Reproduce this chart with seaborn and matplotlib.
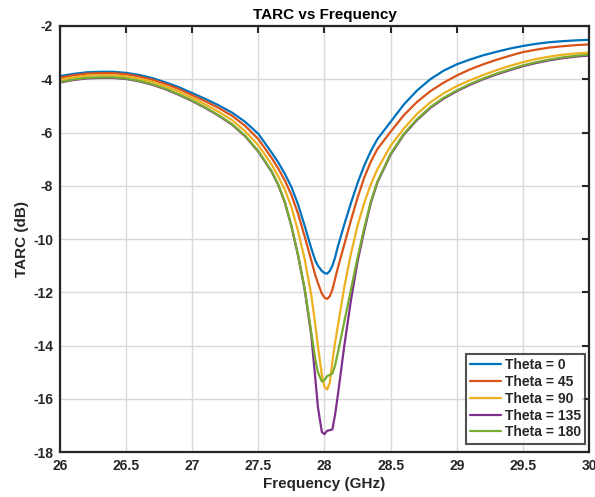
import numpy as np
import pandas as pd
import seaborn as sns
import matplotlib
matplotlib.use("Agg")
import matplotlib.pyplot as plt

# frequency grid (GHz)
freq = [26.0, 26.1, 26.2, 26.3, 26.4, 26.5, 26.6, 26.7, 26.8, 26.9,
        27.0, 27.1, 27.2, 27.3, 27.4, 27.5, 27.6, 27.65, 27.7, 27.75,
        27.8, 27.85, 27.9, 27.93, 27.95, 27.98, 28.0, 28.02, 28.04, 28.06,
        28.08, 28.1, 28.15, 28.2, 28.25, 28.3, 28.35, 28.4, 28.5, 28.6,
        28.7, 28.8, 28.9, 29.0, 29.1, 29.2, 29.3, 29.4, 29.5, 29.6,
        29.7, 29.8, 29.9, 30.0]

# TARC (dB) per theta
tarc_0 = [-3.88, -3.8, -3.74, -3.72, -3.72, -3.76, -3.84, -3.96, -4.12, -4.3,
          -4.52, -4.74, -4.98, -5.25, -5.6, -6.05, -6.75, -7.12, -7.55, -8.05,
          -8.7, -9.5, -10.35, -10.8, -11.0, -11.2, -11.28, -11.3, -11.2, -11.0,
          -10.7, -10.3, -9.45, -8.65, -7.9, -7.25, -6.7, -6.25, -5.6, -4.95,
          -4.42, -4.0, -3.68, -3.44, -3.26, -3.1, -2.97, -2.85, -2.75, -2.67,
          -2.61, -2.57, -2.54, -2.52]
tarc_45 = [-3.94, -3.85, -3.79, -3.77, -3.77, -3.81, -3.9, -4.02, -4.18, -4.37,
           -4.6, -4.83, -5.08, -5.37, -5.75, -6.25, -6.95, -7.35, -7.8, -8.35,
           -9.05, -9.9, -10.8, -11.35, -11.65, -12.05, -12.2, -12.25, -12.15, -11.9,
           -11.5, -11.1, -10.2, -9.3, -8.45, -7.7, -7.1, -6.62, -5.97, -5.35,
           -4.85, -4.45, -4.13, -3.86, -3.63, -3.44, -3.27, -3.12, -2.98, -2.89,
           -2.81, -2.76, -2.72, -2.69]
tarc_90 = [-4.02, -3.93, -3.87, -3.85, -3.85, -3.89, -3.98, -4.1, -4.27, -4.47,
           -4.7, -4.95, -5.22, -5.53, -5.95, -6.48, -7.2, -7.65, -8.15, -8.8,
           -9.7, -10.75, -12.1, -13.2, -14.0, -15.1, -15.55, -15.65, -15.4, -14.6,
           -13.9, -13.3, -11.8, -10.55, -9.5, -8.65, -7.95, -7.38, -6.5, -5.85,
           -5.3, -4.87, -4.53, -4.26, -4.04, -3.84, -3.66, -3.5, -3.36, -3.24,
           -3.15, -3.08, -3.03, -3.0]
tarc_135 = [-4.12, -4.03, -3.97, -3.95, -3.95, -3.99, -4.08, -4.21, -4.38, -4.59,
            -4.82, -5.08, -5.37, -5.7, -6.14, -6.72, -7.47, -7.97, -8.62, -9.52,
            -10.62, -11.9, -13.6, -15.2, -16.3, -17.25, -17.33, -17.2, -17.18, -17.15,
            -16.6, -15.9, -14.0, -12.3, -10.85, -9.7, -8.65, -7.88, -6.83, -6.08,
            -5.53, -5.08, -4.73, -4.45, -4.21, -4.0, -3.82, -3.66, -3.51, -3.39,
            -3.29, -3.21, -3.15, -3.11]
tarc_180 = [-4.1, -4.01, -3.95, -3.93, -3.93, -3.97, -4.06, -4.19, -4.36, -4.57,
            -4.8, -5.06, -5.35, -5.68, -6.12, -6.7, -7.45, -7.95, -8.6, -9.5,
            -10.6, -11.85, -13.5, -14.5, -15.0, -15.35, -15.3, -15.15, -15.1, -15.05,
            -14.75, -14.3, -13.1, -11.9, -10.7, -9.6, -8.6, -7.85, -6.8, -6.05,
            -5.5, -5.05, -4.7, -4.42, -4.18, -3.97, -3.79, -3.63, -3.48, -3.36,
            -3.26, -3.18, -3.12, -3.08]

labels = ["Theta = 0", "Theta = 45", "Theta = 90", "Theta = 135", "Theta = 180"]
series = [tarc_0, tarc_45, tarc_90, tarc_135, tarc_180]
colors = ["#0072BD", "#D95319", "#EDB120", "#7E2F8E", "#77AC30"]

df = pd.concat([pd.DataFrame({"freq": freq, "tarc": s, "theta": lab})
                for lab, s in zip(labels, series)], ignore_index=True)

sns.set_theme(style="white")
plt.rcParams["font.family"] = ["Liberation Sans", "DejaVu Sans"]
plt.rcParams["font.weight"] = "bold"

fig = plt.figure(figsize=(5.95, 4.97), dpi=100)
ax = fig.add_axes([0.1008, 0.0905, 0.8891, 0.8572])

sns.lineplot(data=df, x="freq", y="tarc", hue="theta", hue_order=labels,
             palette=colors, linewidth=1.6, ax=ax, sort=False)

ax.set_xlim(26, 30)
ax.set_ylim(-18, -2)
ax.set_xticks(np.arange(26, 30.01, 0.5))
ax.set_xticklabels(["26", "26.5", "27", "27.5", "28", "28.5", "29", "29.5", "30"])
ax.set_yticks(np.arange(-18, -1.9, 2))
ax.set_yticklabels([str(v) for v in range(-18, -1, 2)])
ax.grid(True, color="#d9d9d9", linewidth=1.0)
ax.tick_params(direction="in", length=5, width=1.5, top=True, right=True,
               labelsize=10, colors="#262626", pad=5)
for lab in ax.get_xticklabels() + ax.get_yticklabels():
    lab.set_fontweight("bold")
for sp in ax.spines.values():
    sp.set_color("#262626")
    sp.set_linewidth(1.6)

ax.set_xlabel("Frequency (GHz)", fontsize=11, fontweight="bold", color="#262626", labelpad=3)
ax.set_ylabel("TARC (dB)", fontsize=11, fontweight="bold", color="#262626", labelpad=3)
ax.set_title("TARC vs Frequency", fontsize=11, fontweight="bold", color="black", pad=5)

leg = ax.legend(loc="lower right", bbox_to_anchor=(0.993, 0.02), fontsize=10,
                frameon=True, fancybox=False, handlelength=2.2, handletextpad=0.3,
                borderpad=0.3, labelspacing=0.2, borderaxespad=0)
leg.get_frame().set_edgecolor("#262626")
leg.get_frame().set_linewidth(1.5)
for t in leg.get_texts():
    t.set_fontweight("bold")
    t.set_color("#262626")

fig.savefig("out.png", dpi=100)
